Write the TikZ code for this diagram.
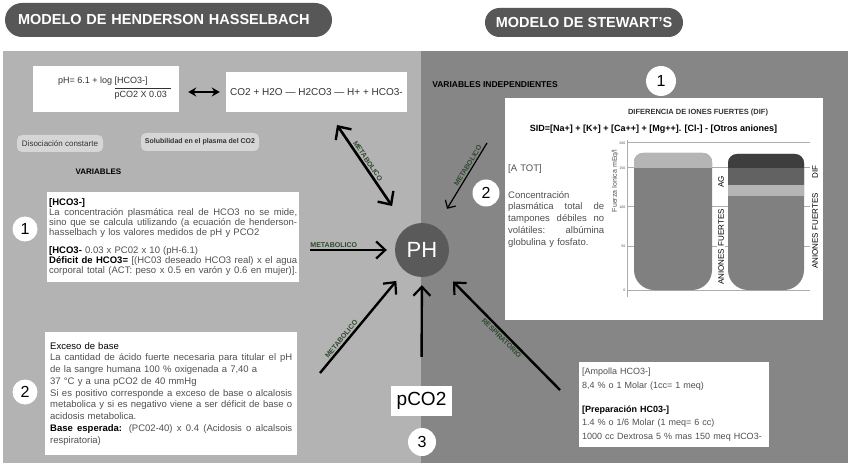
\documentclass[tikz,border=0pt]{standalone}
\usepackage{fontspec}
\setmainfont{Liberation Sans}
\usetikzlibrary{arrows.meta}
\setlength\parindent{0pt}
\definecolor{leftbg}{HTML}{B3B3B3}
\definecolor{rightbg}{HTML}{868686}
\definecolor{hdr}{HTML}{575757}
\definecolor{txtgray}{HTML}{505050}
\definecolor{dark}{HTML}{333333}
\definecolor{lblgreen}{HTML}{2F4A2F}
\definecolor{pill}{HTML}{D6D6D6}
\definecolor{phc}{HTML}{5A5A5A}
\definecolor{barmid}{HTML}{808080}
\definecolor{barlight}{HTML}{B5B5B5}
\definecolor{bardark}{HTML}{3E3E3E}
\definecolor{barmidb}{HTML}{626262}
\definecolor{gridc}{HTML}{ACACAC}
\newcommand\jline[2]{{\spaceskip=0pt\xspaceskip=0pt\makebox[#1][s]{#2}}}
\newcommand\fs[2]{\fontsize{#1}{#2}\selectfont}
\begin{document}
\begin{tikzpicture}[x=1pt,y=-1pt,
  hdrbox/.style={fill=hdr, text=white, font=\fs{14.5}{16}\bfseries, inner ysep=0pt},
  whitebox/.style={fill=white, inner sep=0pt},
  pillbox/.style={fill=pill, rounded corners=5pt, inner sep=0pt},
  numcirc/.style={circle, fill=white, inner sep=0pt, font=\fs{16}{18}},
  pharr/.style={line width=2.4pt, -{Straight Barb[length=9pt,width=17pt,line width=2.2pt]}},
  phdbl/.style={line width=2.6pt, {Straight Barb[length=10pt,width=19pt,line width=2.4pt]}-{Straight Barb[length=10pt,width=19pt,line width=2.4pt]}},
  phthin/.style={line width=1.2pt, -{Straight Barb[length=6pt,width=12pt,line width=1.2pt]}},
  dblarr/.style={line width=1.6pt, {Stealth[length=8pt,width=9pt]}-{Stealth[length=8pt,width=9pt]}, shorten <=9pt, shorten >=6pt},
  arrlbl/.style={font=\fs{7}{8}\bfseries, text=lblgreen, sloped, inner sep=1.5pt},
  barlbl/.style={font=\fs{8}{9}, inner sep=1pt, fill=white},
  ticklbl/.style={font=\fs{3.5}{4}, text=txtgray, inner sep=0.5pt, anchor=east},
  gridline/.style={draw=gridc, line width=1pt}
]
\useasboundingbox (0,0) rectangle (850,470);
\fill[white] (0,0) rectangle (850,470);
% panels
\fill[leftbg] (3,51) rectangle (421,463);
\fill[rightbg] (421,51) rectangle (848,463);
% headers
\node[hdrbox, rounded corners=17pt, minimum height=34pt, text width=301pt, inner xsep=13pt, align=left] (hhtitle) at (168.5,20) {MODELO DE HENDERSON HASSELBACH};
\node[hdrbox, rounded corners=14.5pt, minimum height=29pt, minimum width=198pt] (sttitle) at (584,22.5) {MODELO DE STEWART'S};
% left panel
\node[whitebox, minimum width=146pt, minimum height=46pt] (hhbox) at (106,89) {};
\node[anchor=base west, inner sep=0pt, font=\fs{9}{10}, text=dark] (hheq) at (58,84)
  {\renewcommand\arraystretch{1.3}pH= 6.1 + log \begin{tabular}[t]{@{}l@{\hspace{4pt}}}[HCO3-]\\\hline pCO2 X 0.03\end{tabular}};
\node[whitebox, minimum width=181pt, minimum height=40pt, font=\fs{10}{12}, text=dark] (rxbox) at (316.5,92) {CO2 + H2O — H2CO3 — H+ + HCO3-};
\draw[dblarr] (hhbox.east |- rxbox.west) -- (rxbox.west);
\node[pillbox, minimum width=86pt, minimum height=17pt, font=\fs{8}{9}, text=dark] (disoc) at (60,143.5) {Disociación constarte};
\node[pillbox, minimum width=118pt, minimum height=18pt, font=\fs{7}{8}\bfseries, text=dark] (solub) at (200,142) {Solubilidad en el plasma del CO2};
\node[font=\fs{8}{9}\bfseries, inner sep=0pt] (vars) at (98.5,172) {VARIABLES};
\node[whitebox, anchor=north west, minimum width=252pt, minimum height=90pt, text width=248pt, inner xsep=2pt, align=left, font=\fs{9.5}{10}, text=txtgray] (box1) at (47,192) {%
\textcolor{black}{\textbf{[HCO3-]}}\\
\jline{248pt}{La concentración plasmática real de HCO3 no se mide,}\\
\jline{248pt}{sino que se calcula utilizando (a ecuación de henderson-}\\
hasselbach y los valores medidos de pH y PCO2\\[8pt]
\textcolor{black}{\textbf{[HCO3-}} 0.03 x PC02 x 10 (pH-6.1)\\
\jline{248pt}{\textcolor{black}{\textbf{Déficit de HCO3=}} [(HC03 deseado HCO3 real) x el agua}\\
\jline{248pt}{corporal total (ACT: peso x 0.5 en varón y 0.6 en mujer)].}};
\node[whitebox, anchor=north west, minimum width=252pt, minimum height=123pt, text width=242pt, inner xsep=5pt, align=left, font=\fs{9.5}{11.75}, text=txtgray] (box2) at (45,332) {%
\textcolor{black}{Exceso de base}\\
\jline{242pt}{La cantidad de ácido fuerte necesaria para titular el pH}\\
de la sangre humana 100 \% oxigenada a 7,40 a\\
37 °C y a una pCO2 de 40 mmHg\\
\jline{242pt}{Si es positivo corresponde a exceso de base o alcalosis}\\
\jline{242pt}{metabolica y si es negativo viene a ser déficit de base o}\\
acidosis metabolica.\\
\jline{242pt}{\textcolor{black}{\textbf{Base esperada:}} (PC02-40) x 0.4 (Acidosis o alcalsois}\\
respiratoria)};
\node[numcirc, minimum size=25pt] (n1l) at (25,229) {1};
\node[numcirc, minimum size=25pt] (n2l) at (25,392) {2};
% right panel
\node[font=\fs{8.5}{9}\bfseries, inner sep=0pt] (varind) at (495,85) {VARIABLES INDEPENDIENTES};
\node[numcirc, minimum size=30pt] (n1r) at (661,81) {1};
\node[whitebox, minimum width=318pt, minimum height=222pt] (stbox) at (664,209) {};
\node[numcirc, minimum size=27pt] (n2r) at (486,193) {2};
\node[font=\fs{7.5}{9}\bfseries, text=dark, inner sep=0pt] (diftitle) at (698,113) {DIFERENCIA DE IONES FUERTES (DIF)};
\node[font=\fs{9}{11}\bfseries, inner sep=0pt] (sid) at (653.5,129) {SID=[Na+] + [K+] + [Ca++] + [Mg++]. [Cl-] - [Otros aniones]};
\node[anchor=north west, inner sep=0pt, font=\fs{9.5}{11.75}, text=txtgray, text width=96pt, align=left] (atot) at (508,164) {[A TOT]\\[15.25pt]
Concentración\\
\jline{96pt}{plasmática total de}\\
\jline{96pt}{tampones débiles no}\\
\jline{96pt}{volátiles: albúmina}\\
globulina y fosfato.};
% chart
\foreach \gy in {143,168,207,246,290} \draw[gridline] (627,\gy) -- (810,\gy);
\draw[draw=gridc, line width=0.8pt] (627,140) -- (627,297);
\node[ticklbl] (t200) at (626,143) {200};
\node[ticklbl] (t150) at (626,168) {150};
\node[ticklbl] (t100) at (626,207) {100};
\node[ticklbl] (t50) at (626,246) {50};
\node[ticklbl] (t0) at (626,290) {0};
\node[rotate=90, font=\fs{7}{8}, text=txtgray, inner sep=0pt] (ylab) at (615,181) {Fuerza Ionica mEq/l};
\begin{scope}
\clip[rounded corners=20pt] (634,220) -- (634,290) -- (712,290) -- (712,220) [rounded corners=9pt] -- (712,153) -- (634,153) -- cycle;
\fill[barmid] (630,150) rectangle (716,295);
\fill[barlight] (630,150) rectangle (716,168);
\end{scope}
\begin{scope}
\clip[rounded corners=20pt] (728,220) -- (728,290) -- (804,290) -- (804,220) [rounded corners=9pt] -- (804,154) -- (728,154) -- cycle;
\fill[barmid] (724,150) rectangle (808,295);
\fill[bardark] (724,150) rectangle (808,168);
\fill[barmidb] (724,168) rectangle (808,185);
\fill[barlight] (724,185) rectangle (808,196);
\end{scope}
\node[barlbl, rotate=90] (ag) at (721,182) {AG};
\node[barlbl, rotate=90] (af1) at (721,247) {ANIONES FUERTES};
\node[barlbl, rotate=90] (dif) at (815,172) {DIF};
\node[barlbl, rotate=90] (af2) at (815,231) {ANIONES FUERTES};
% bottom right box
\node[whitebox, anchor=north west, minimum width=190pt, minimum height=85pt, text width=184pt, inner xsep=3pt, align=left, font=\fs{9}{13.5}, text=txtgray] (ampbox) at (579,362) {%
[Ampolla HCO3-]\\
8,4 \% o 1 Molar (1cc= 1 meq)\\[10.5pt]
\textcolor{black}{\textbf{[Preparación HC03-]}}\\
1.4 \% o 1/6 Molar (1 meq= 6 cc)\\
1000 cc Dextrosa 5 \% mas 150 meq HCO3-};
% center
\node[circle, fill=phc, minimum size=54pt, inner sep=0pt, text=white, font=\fs{22}{24}] (ph) at (422,250) {PH};
\node[whitebox, minimum width=61pt, minimum height=30pt, font=\fs{19}{22}] (pco2) at (421.5,401) {pCO2};
\node[numcirc, minimum size=28pt] (n3) at (422,442) {3};
% arrows
\coordinate (ta) at (337,125);
\coordinate (tb) at (487,143);
\coordinate (tc) at (310,250);
\coordinate (td) at (320,373);
\coordinate (te) at (560,390);
\draw[phdbl, shorten >=26pt] (ta) -- node[arrlbl, above, pos=0.38] {METABOLICO} (ph);
\draw[phthin, shorten >=21pt] (tb) -- node[arrlbl, above, pos=0.3] {METABOLICO} (ph);
\draw[pharr, shorten >=8pt] (tc) -- node[arrlbl, above, pos=0.28] {METABOLICO} (ph);
\draw[pharr, shorten >=13pt] (td) -- node[arrlbl, above, pos=0.3] {METABOLICO} (ph);
\draw[pharr, shorten <=29pt, shorten >=8pt] (pco2.north) -- (ph);
\draw[pharr, shorten >=17pt] (te) -- node[arrlbl, below, pos=0.46] {RESPIRATORIO} (ph);
\end{tikzpicture}
\end{document}
